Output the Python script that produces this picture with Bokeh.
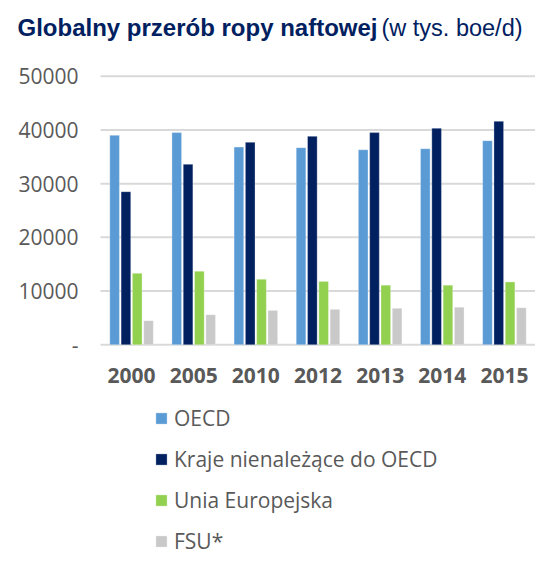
from bokeh.plotting import figure
from bokeh.models import (Range1d, FixedTicker, Label, Legend, LegendItem, ColumnDataSource)
from bokeh.transform import dodge
from bokeh.embed import file_html
from bokeh.resources import INLINE

years = ["2000", "2005", "2010", "2012", "2013", "2014", "2015"]
oecd = [39000, 39500, 36800, 36700, 36300, 36500, 38000]
non_oecd = [28500, 33600, 37700, 38800, 39500, 40300, 41600]
eu = [13300, 13700, 12200, 11800, 11100, 11100, 11700]
fsu = [4500, 5600, 6400, 6600, 6800, 7000, 6900]
series_names = ["OECD", "Kraje nienależące do OECD", "Unia Europejska", "FSU*"]
series_colors = ["#5B9BD5", "#002060", "#92D050", "#C9C9C9"]
y_ticks = [0, 10000, 20000, 30000, 40000, 50000]

# ---- layout constants (canvas pixels) ----
W, H = 535, 557
PLOT_L, PLOT_R = 100, 535         # horizontal extent of the plotting area
Y0_PX, YTOP_PX = 344.3, 75.7      # canvas y (from top) of value 0 and of top tick
n = len(years)
xs = list(range(n))
x_lo, x_hi = -0.5, n - 0.5
ux = (x_hi - x_lo) / (PLOT_R - PLOT_L)
x_start = x_lo - PLOT_L * ux
x_end = x_hi + (W - PLOT_R) * ux
ymax = y_ticks[-1]
uy = ymax / (Y0_PX - YTOP_PX)
y_end = ymax + YTOP_PX * uy
y_start = -(H - Y0_PX) * uy

src = ColumnDataSource(dict(x=xs, oecd=oecd, non_oecd=non_oecd, eu=eu, fsu=fsu))

p = figure(x_range=Range1d(x_start, x_end), y_range=Range1d(y_start, y_end),
           width=W, height=H, output_backend="svg", toolbar_location=None,
           min_border=0)
p.outline_line_color = None
p.xgrid.grid_line_color = None
p.ygrid.grid_line_color = None

# gridlines (from tick values)
p.segment(x0=[x_lo] * len(y_ticks), x1=[x_hi] * len(y_ticks), y0=y_ticks, y1=y_ticks,
          line_color="#D9D9D9", line_width=2, level="underlay")

offsets = [-0.273, -0.091, 0.091, 0.273]
cols = ["oecd", "non_oecd", "eu", "fsu"]
renderers = []
for col, off, color in zip(cols, offsets, series_colors):
    r = p.vbar(x=dodge("x", off), top=col, width=0.155, source=src,
               fill_color=color, line_color="white", line_width=0.5, line_alpha=0.6)
    renderers.append(r)

# y axis
p.yaxis.fixed_location = x_lo
p.yaxis.ticker = FixedTicker(ticks=y_ticks)
p.yaxis.major_label_overrides = {0: "-"}
p.yaxis.axis_line_color = None
p.yaxis.major_tick_line_color = None
p.yaxis.major_tick_out = 0
p.yaxis.minor_tick_line_color = None
p.yaxis.major_label_text_font = "Open Sans"
p.yaxis.major_label_text_font_size = "21px"
p.yaxis.major_label_text_color = "#595959"
p.yaxis.major_label_standoff = 22

# x axis
p.xaxis.fixed_location = 0
p.xaxis.ticker = FixedTicker(ticks=xs)
p.xaxis.major_label_overrides = {i: y for i, y in zip(xs, years)}
p.xaxis.axis_line_color = None
p.xaxis.major_tick_line_color = None
p.xaxis.major_tick_out = 0
p.xaxis.minor_tick_line_color = None
p.xaxis.major_label_text_font = "Open Sans"
p.xaxis.major_label_text_font_style = "bold"
p.xaxis.major_label_text_font_size = "21px"
p.xaxis.major_label_text_color = "#595959"
p.xaxis.major_label_standoff = 23

# title (two styles)
p.add_layout(Label(x=17, y=H - 27, x_units="screen", y_units="screen",
                   text="Globalny przerób ropy naftowej", text_font="Liberation Sans",
                   text_font_style="bold", text_font_size="24px", text_color="#002060",
                   text_baseline="alphabetic"))
p.add_layout(Label(x=381, y=H - 27, x_units="screen", y_units="screen",
                   text="(w tys. boe/d)", text_font="Liberation Sans",
                   text_font_size="23.5px", text_color="#002060",
                   text_baseline="alphabetic"))

legend = Legend(items=[LegendItem(label=nm, renderers=[r]) for nm, r in zip(series_names, renderers)],
                location=(154, 1), orientation="vertical",
                glyph_width=14, glyph_height=14, label_height=30, spacing=11,
                label_standoff=6, padding=0, margin=0, border_line_color=None,
                background_fill_alpha=0,
                label_text_font="Open Sans", label_text_font_size="21px",
                label_text_color="#595959")
p.add_layout(legend, "center")

open("out.html", "w").write(file_html(p, INLINE))
